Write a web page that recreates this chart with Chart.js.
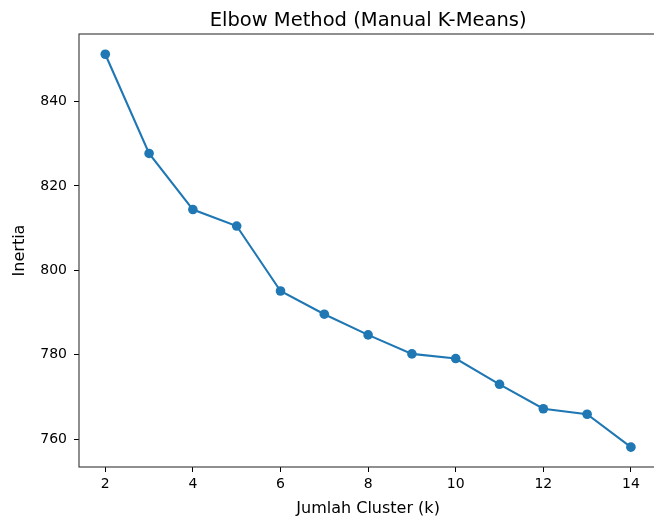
<!DOCTYPE html>
<html>
<head>
<meta charset="utf-8">
<script src="https://cdn.jsdelivr.net/npm/chart.js@4"></script>
<style>
    html, body { margin: 0; padding: 0; background: #fff; overflow: hidden; }
    #wrap { width: 662px; height: 519px; }
</style>
</head>
<body>
<div id="wrap"><canvas id="elbow-chart" width="662" height="519"></canvas></div>
<script>
// Data
const kValues = [2, 3, 4, 5, 6, 7, 8, 9, 10, 11, 12, 13, 14];
const inertia = [851.2, 827.7, 814.4, 810.5, 795.1, 789.6, 784.7, 780.2, 779.1, 773.0, 767.2, 765.9, 758.1];
const xTicks = [2, 4, 6, 8, 10, 12, 14];
const yTicks = [760, 780, 800, 820, 840];

const chartTitle = 'Elbow Method (Manual K-Means)';
const xLabel = 'Jumlah Cluster (k)';
const yLabel = 'Inertia';

const FONT = 'DejaVu Sans';

// Box round the plot and a centred title, like matplotlib
const framePlugin = {
    id: 'frame',
    afterDraw(chart) {
        const { ctx, chartArea: a } = chart;
        ctx.save();
        ctx.strokeStyle = '#333';
        ctx.lineWidth = 1.1;
        ctx.strokeRect(a.left, a.top, a.right - a.left, a.bottom - a.top);
        ctx.fillStyle = '#000';
        ctx.font = `19.5px "${FONT}"`;
        ctx.textAlign = 'center';
        ctx.textBaseline = 'alphabetic';
        ctx.fillText(chartTitle, (a.left + a.right) / 2, a.top - 8.5);
        ctx.restore();
    }
};

const ctx = document.getElementById('elbow-chart').getContext('2d');
new Chart(ctx, {
    type: 'line',
    data: {
        datasets: [{
            data: kValues.map((k, i) => ({ x: k, y: inertia[i] })),
            borderColor: '#1f77b4',
            backgroundColor: '#1f77b4',
            borderWidth: 2.1,
            pointRadius: 4.8,
            pointBorderWidth: 0,
            pointBackgroundColor: '#1f77b4',
            tension: 0
        }]
    },
    options: {
        responsive: false,
        animation: false,
        devicePixelRatio: 1,
        layout: { padding: { top: 34, right: 3, left: 0, bottom: 0 } },
        plugins: {
            legend: { display: false },
            title: { display: false },
            tooltip: { enabled: false }
        },
        scales: {
            x: {
                type: 'linear',
                min: 1.4,
                max: 14.6,
                afterFit: scale => { scale.height = 52; },
                afterBuildTicks: axis => { axis.ticks = xTicks.map(v => ({ value: v })); },
                border: { display: false },
                grid: {
                    drawOnChartArea: false,
                    drawTicks: true,
                    tickLength: 5,
                    tickColor: '#000',
                    lineWidth: 1
                },
                ticks: {
                    color: '#000',
                    padding: 4,
                    maxRotation: 0,
                    font: { family: FONT, size: 14 }
                },
                title: {
                    display: true,
                    text: xLabel,
                    color: '#000',
                    font: { family: FONT, size: 16 },
                    padding: { top: 0, bottom: 1 }
                }
            },
            y: {
                min: 753.4,
                max: 856.0,
                afterFit: scale => { scale.width = 79; },
                afterBuildTicks: axis => { axis.ticks = yTicks.map(v => ({ value: v })); },
                border: { display: false },
                grid: {
                    drawOnChartArea: false,
                    drawTicks: true,
                    tickLength: 5,
                    tickColor: '#000',
                    lineWidth: 1
                },
                ticks: {
                    color: '#000',
                    padding: 7,
                    font: { family: FONT, size: 14 }
                },
                title: {
                    display: true,
                    text: yLabel,
                    color: '#000',
                    font: { family: FONT, size: 16 },
                    padding: { top: 10, bottom: 0 }
                }
            }
        }
    },
    plugins: [framePlugin]
});
</script>
</body>
</html>
